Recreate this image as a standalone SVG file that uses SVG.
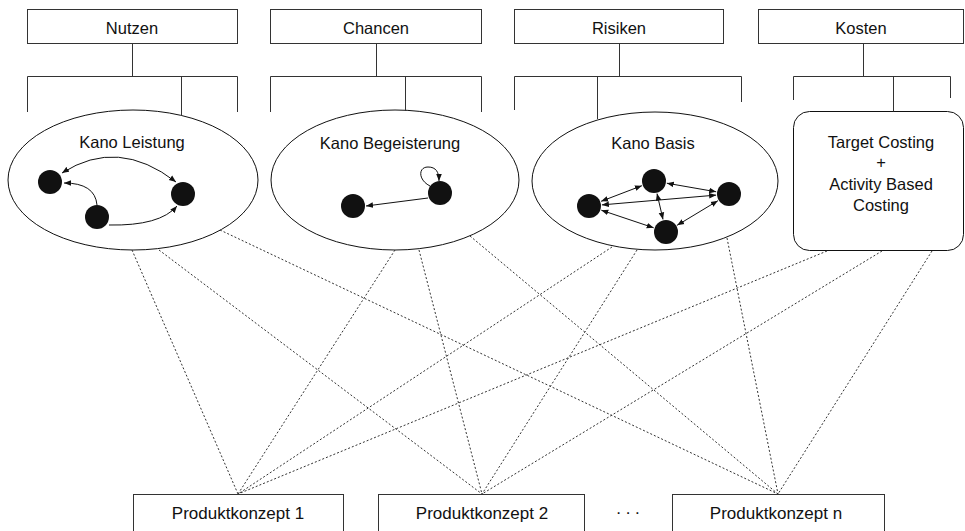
<svg xmlns="http://www.w3.org/2000/svg" width="965" height="531" viewBox="0 0 965 531">
  <defs>
    <marker id="arr" viewBox="0 0 10 10" refX="10" refY="5" markerWidth="7" markerHeight="7" markerUnits="userSpaceOnUse" orient="auto-start-reverse">
      <path d="M0,1 L10,5 L0,9 Z" fill="#111"/>
    </marker>
    <style>
      .box { fill: #fff; stroke: #333; stroke-width: 1; }
      .shape { fill: #fff; stroke: #111; stroke-width: 1; }
      .tree { fill: none; stroke: #333; stroke-width: 1; }
      .lbl { font-family: "Liberation Sans", Arial, sans-serif; font-size: 16.5px; fill: #111; text-anchor: middle; }
      .big { font-size: 17px; }
      .dot { fill: #111; }
      .edge { fill: none; stroke: #111; stroke-width: 1; }
      .dash { fill: none; stroke: #333; stroke-width: 1; stroke-dasharray: 2 2; }
    </style>
  </defs>
  <rect width="965" height="531" fill="#fff"/>

  <!-- category headers -->
  <g id="nutzen">
    <rect class="box" x="27.5" y="9.5" width="210" height="34"/>
    <text class="lbl" x="132" y="34">Nutzen</text>
  </g>
  <g id="chancen">
    <rect class="box" x="270.5" y="9.5" width="211" height="34"/>
    <text class="lbl" x="376" y="34">Chancen</text>
  </g>
  <g id="risiken">
    <rect class="box" x="514.5" y="9.5" width="209" height="34"/>
    <text class="lbl" x="619" y="34">Risiken</text>
  </g>
  <g id="kosten">
    <rect class="box" x="758.5" y="9.5" width="205" height="34"/>
    <text class="lbl" x="861" y="34">Kosten</text>
  </g>

  <!-- methods -->
  <g id="kano-leistung">
    <ellipse class="shape" cx="133" cy="180" rx="125" ry="70"/>
    <text class="lbl" x="132" y="148">Kano Leistung</text>
    <circle class="dot" cx="50" cy="182" r="12"/>
    <circle class="dot" cx="183" cy="194" r="12"/>
    <circle class="dot" cx="97" cy="217" r="12"/>
    <path class="edge" d="M62,173 Q118,137 176,182" marker-start="url(#arr)" marker-end="url(#arr)"/>
    <path class="edge" d="M97,205 Q95,183 64,183" marker-end="url(#arr)"/>
    <path class="edge" d="M109,225 Q160,226 177,206" marker-end="url(#arr)"/>
  </g>
  <g id="kano-begeisterung">
    <ellipse class="shape" cx="395" cy="180" rx="124" ry="70"/>
    <text class="lbl" x="390" y="149">Kano Begeisterung</text>
    <circle class="dot" cx="353" cy="206" r="12"/>
    <circle class="dot" cx="440" cy="193" r="12"/>
    <path class="edge" d="M428,198 L366,206" marker-end="url(#arr)"/>
    <path class="edge" d="M430,186 C418,180 418,167 428,167 C436,167 439,172 439,181" marker-end="url(#arr)"/>
  </g>
  <g id="kano-basis">
    <ellipse class="shape" cx="655" cy="181" rx="123" ry="69"/>
    <text class="lbl" x="653" y="149">Kano Basis</text>
    <circle class="dot" cx="654" cy="181" r="12"/>
    <circle class="dot" cx="729" cy="194" r="12"/>
    <circle class="dot" cx="589" cy="206" r="12"/>
    <circle class="dot" cx="666" cy="232" r="12"/>
    <path class="edge" d="M641.9,185.7 L601.1,201.3" marker-start="url(#arr)" marker-end="url(#arr)"/>
    <path class="edge" d="M666.8,183.2 L716.2,191.8" marker-start="url(#arr)" marker-end="url(#arr)"/>
    <path class="edge" d="M601.9,204.9 L716.1,195.1" marker-start="url(#arr)" marker-end="url(#arr)"/>
    <path class="edge" d="M657,193.6 L663,219.4" marker-start="url(#arr)" marker-end="url(#arr)"/>
    <path class="edge" d="M601.3,210.2 L653.7,227.8" marker-start="url(#arr)" marker-end="url(#arr)"/>
    <path class="edge" d="M717.9,200.7 L677.1,225.3" marker-start="url(#arr)" marker-end="url(#arr)"/>
  </g>
  <g id="costing">
    <rect class="shape" x="793.5" y="111.5" width="170" height="139" rx="16"/>
    <text class="lbl" x="881" y="148">Target Costing</text>
    <text class="lbl" x="881" y="168">+</text>
    <text class="lbl" x="881" y="190">Activity Based</text>
    <text class="lbl" x="881" y="211">Costing</text>
  </g>

  <!-- product concepts -->
  <g id="produkt-1">
    <rect class="box" x="133.5" y="494.5" width="210" height="40"/>
    <text class="lbl big" x="238" y="519">Produktkonzept 1</text>
  </g>
  <g id="produkt-2">
    <rect class="box" x="378.5" y="494.5" width="206" height="40"/>
    <text class="lbl big" x="482" y="519">Produktkonzept 2</text>
  </g>
  <text class="lbl big" x="628" y="514">. . .</text>
  <g id="produkt-n">
    <rect class="box" x="672.5" y="494.5" width="212" height="40"/>
    <text class="lbl big" x="776" y="519">Produktkonzept n</text>
  </g>

  <!-- connectors -->
  <g id="connectors">
    <!-- header brackets -->
    <path class="tree" d="M132.5,43.5 V76.5 M27.5,112 V76.5 H237.5 V112 M181.5,76.5 V116"/>
    <path class="tree" d="M376.5,43.5 V76.5 M270.5,112 V76.5 H481.5 V112 M405.5,76.5 V111"/>
    <path class="tree" d="M619.5,43.5 V76.5 M514.5,110 V76.5 H741.5 V102 M597.5,76.5 V119"/>
    <path class="tree" d="M863.5,43.5 V76.5 M793.5,100 V76.5 H950.5 V98 M893.5,76.5 V111.5"/>
    <!-- method to concept links -->
    <path class="dash" d="M132,250 L238,494 M159,250 L482,494 M220,230 L778,494"/>
    <path class="dash" d="M395,250 L238,494 M419,250 L482,494 M470,236 L778,494"/>
    <path class="dash" d="M612,247 L238,494 M637,250 L482,494 M727,238 L778,494"/>
    <path class="dash" d="M827,251 L238,494 M882,251 L482,494 M932,251 L778,494"/>
  </g>
</svg>
